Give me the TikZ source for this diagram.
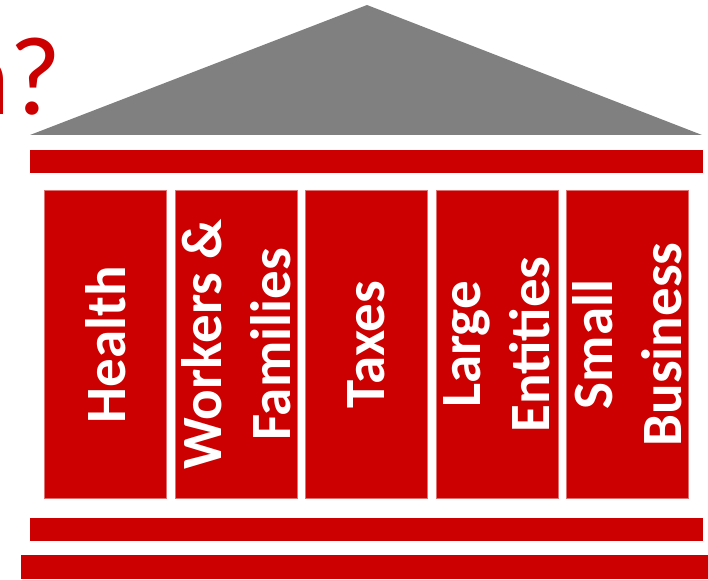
\documentclass[tikz,border=0pt]{standalone}
\usepackage{fontspec}
\setmainfont{Carlito}
\usepackage{xcolor}
\usetikzlibrary{positioning}
\definecolor{pillarred}{HTML}{CC0000}
\definecolor{pillaredge}{HTML}{E07070}
\definecolor{roofgray}{HTML}{808080}

\begin{document}
\begin{tikzpicture}[
		x=1pt,y=1pt,
		node distance=7.7pt,
		pillar/.style={
			fill=pillarred,
			draw=pillaredge,
			line width=0.8pt,
			minimum width=122pt,
			minimum height=308pt,
			inner sep=0pt
		},
		caption/.style={
			text=white,
			font=\fontsize{57}{69}\selectfont\bfseries,
			align=center,
			inner sep=0pt,
			rotate=90
		},
		beam/.style={fill=pillarred}
		]
		
		\useasboundingbox (0,0) rectangle (708,579);
		\clip (0,0) rectangle (708,579);
		
		% roof
		\fill[roofgray] (30,444) -- (367,574) -- (702,444) -- cycle;
		
		\node[anchor=base east,inner sep=0pt,text=pillarred,
		font=\fontsize{112}{130}\selectfont] (title) at (62,464)
		{n?};
		
		% beams
		\fill[beam] (30,406) rectangle (703,429);
		\fill[beam] (30,38) rectangle (703,61);
		\fill[beam] (21,0) rectangle (708,24);
		
		% pillars
		\node[pillar] (health) at (105.5,234.5) {};
		\node[pillar,right=of health] (workers) {};
		\node[pillar,right=of workers] (taxes) {};
		\node[pillar,right=of taxes] (large) {};
		\node[pillar,right=of large] (small) {};
		
		\node[caption] at (health) {Health};
		\node[caption] at (workers) {Workers \&\\Families};
		\node[caption] at (taxes) {Taxes};
		\node[caption] at (large) {Large\\Entities};
		\node[caption] at (small) {Small\\Business};
		
	\end{tikzpicture}
\end{document}
